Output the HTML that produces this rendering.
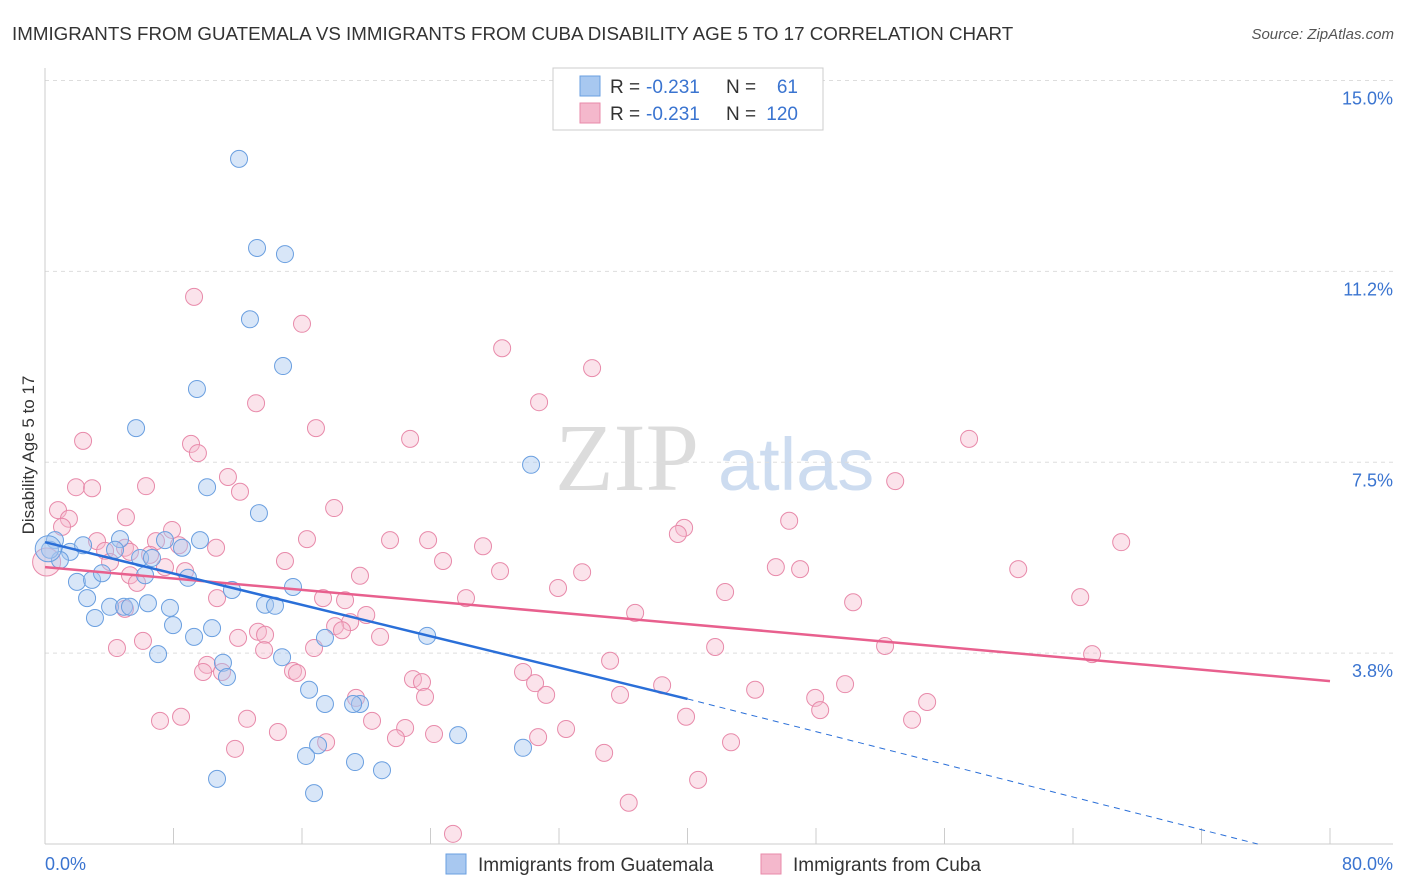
<!DOCTYPE html>
<html><head><meta charset="utf-8"><style>
body{margin:0;background:#fff;font-family:"Liberation Sans",sans-serif}
svg{display:block}
</style></head><body>
<svg id="chart" width="1406" height="892" xmlns="http://www.w3.org/2000/svg">
<text x="12" y="40" font-size="18.75" fill="#333">IMMIGRANTS FROM GUATEMALA VS IMMIGRANTS FROM CUBA DISABILITY AGE 5 TO 17 CORRELATION CHART</text>
<text x="1394" y="39" font-size="15" fill="#555" font-style="italic" text-anchor="end">Source: ZipAtlas.com</text>
<g>
<text x="555" y="490" font-size="96" font-family="Liberation Serif,serif" fill="#dcdcdc">ZIP</text>
<text x="718" y="490" font-size="74" fill="#cddcf0">atlas</text>
</g>
<g id="grid"></g>
<g id="axes"></g>
<g id="points"></g>
<g id="lines"></g>
<text transform="translate(34,455) rotate(-90)" font-size="17" fill="#333" text-anchor="middle">Disability Age 5 to 17</text>
<g>
<rect x="553" y="68" width="270" height="62" fill="#fff" stroke="#ccc"/>
<rect x="580" y="76" width="20" height="20" fill="#a8c8f0" stroke="#6a9fe0"/>
<rect x="580" y="103" width="20" height="20" fill="#f4b8cc" stroke="#e88aaa"/>
<text x="610" y="93" font-size="19" fill="#333">R = </text>
<text x="646" y="93" font-size="19" fill="#3a74d0">-0.231</text>
<text x="726" y="93" font-size="19" fill="#333">N =</text>
<text x="798" y="93" font-size="19" fill="#3a74d0" text-anchor="end">61</text>
<text x="610" y="120" font-size="19" fill="#333">R = </text>
<text x="646" y="120" font-size="19" fill="#3a74d0">-0.231</text>
<text x="726" y="120" font-size="19" fill="#333">N =</text>
<text x="798" y="120" font-size="19" fill="#3a74d0" text-anchor="end">120</text>
</g>
<g>
<rect x="446" y="854" width="20" height="20" fill="#a8c8f0" stroke="#6a9fe0"/>
<text x="478" y="871" font-size="19" fill="#333">Immigrants from Guatemala</text>
<rect x="761" y="854" width="20" height="20" fill="#f4b8cc" stroke="#e88aaa"/>
<text x="793" y="871" font-size="19" fill="#333">Immigrants from Cuba</text>
</g>
</svg>
<script>
const yTicks=[15,11.25,7.5,3.75];
const yTickLabels=["15.0%","11.2%","7.5%","3.8%"];
const xTicks=[0,8,16,24,32,40,48,56,64,72,80];
const blueX=[12.08,13.2,14.94,12.76,14.82,9.46,5.67,30.26,10.09,13.32,9.65,4.67,7.47,8.53,0.62,1.56,2.37,4.36,5.92,6.66,0.93,0.31,1.99,2.93,3.55,6.23,8.9,11.64,15.44,2.62,4.05,4.92,5.29,6.41,7.78,3.11,7.97,10.4,9.28,13.7,14.32,17.43,23.79,7.04,11.08,11.33,14.76,16.44,17.43,19.61,19.18,25.72,17.0,16.25,19.3,20.98,29.76,10.71,16.75,0.2];
const blueY=[13.46,11.71,11.59,10.31,9.39,8.94,8.17,7.45,7.01,6.5,5.97,5.99,5.97,5.82,5.97,5.74,5.87,5.78,5.62,5.62,5.58,5.78,5.15,5.19,5.32,5.28,5.23,4.99,5.05,4.83,4.66,4.66,4.66,4.73,4.64,4.44,4.3,4.24,4.07,4.7,4.68,4.05,4.09,3.73,3.56,3.28,3.67,3.03,2.75,2.75,2.75,2.14,1.94,1.73,1.61,1.45,1.89,1.28,1.0,5.8];
const pinkX=[9.28,16.0,28.46,34.06,13.14,30.76,16.87,2.37,9.09,22.73,57.53,9.52,11.39,52.93,6.29,1.93,2.93,12.14,0.81,5.04,18.0,1.49,1.06,7.91,46.33,39.79,39.4,16.31,21.48,23.85,67.0,6.91,3.24,4.98,27.27,10.65,8.34,3.74,5.29,6.54,4.05,14.94,24.78,7.47,45.5,47.01,60.59,28.33,33.44,5.29,19.61,5.73,8.72,31.94,42.34,26.21,10.71,17.31,18.68,50.31,64.45,4.98,20.0,36.74,19.0,18.06,18.49,13.26,13.7,12.02,20.86,6.1,16.75,4.48,13.64,41.72,52.3,65.19,35.18,10.09,9.84,11.02,15.44,15.69,22.91,23.47,29.76,30.51,38.42,49.81,31.2,19.36,23.66,35.8,44.21,47.95,54.92,48.26,8.47,7.16,12.58,39.91,53.98,20.36,32.44,22.42,14.5,24.22,21.85,30.7,42.71,17.5,11.83,34.81,40.66,36.34,25.4,0.1];
const pinkY=[10.75,10.22,9.74,9.35,8.66,8.68,8.17,7.92,7.86,7.96,7.96,7.68,7.21,7.13,7.03,7.01,6.99,6.92,6.56,6.42,6.6,6.39,6.23,6.17,6.35,6.21,6.09,5.99,5.97,5.97,5.93,5.95,5.95,5.82,5.85,5.82,5.87,5.76,5.74,5.68,5.54,5.56,5.56,5.44,5.44,5.4,5.4,5.36,5.34,5.28,5.27,5.13,5.36,5.03,4.95,4.83,4.83,4.83,4.79,4.75,4.85,4.62,4.5,4.54,4.36,4.28,4.2,4.17,4.11,4.05,4.07,3.99,3.85,3.85,3.81,3.87,3.89,3.73,3.6,3.52,3.38,3.38,3.4,3.36,3.24,3.18,3.38,3.16,3.12,3.14,2.93,2.87,2.89,2.93,3.03,2.87,2.79,2.63,2.5,2.42,2.46,2.5,2.44,2.42,2.26,2.28,2.2,2.16,2.08,2.1,2.0,2.0,1.87,1.79,1.26,0.81,0.2,5.54];
const blueTrend=[[0,5.93],[40,2.85],[75.5,0]];
const pinkTrend=[[0,5.44],[80,3.2]];
const NS="http://www.w3.org/2000/svg";
const sx=v=>45+v*(1330-45)/80;
const sy=v=>844-v*50.9;
function mk(tag,parent,attrs){const e=document.createElementNS(NS,tag);for(const k in attrs)e.setAttribute(k,attrs[k]);document.getElementById(parent).appendChild(e);return e;}
yTicks.forEach((t,i)=>{
 const l=mk('line','grid',{x1:45,x2:1393,y1:sy(t),y2:sy(t),stroke:'#ddd','stroke-dasharray':'4,4'});
 
 
 const tx=mk('text','axes',{x:1393,y:sy(t)+24,'font-size':18,fill:'#3a74d0','text-anchor':'end'});
 tx.textContent=yTickLabels[i];
 
 
});
const ax=mk('line','axes',{x1:45,x2:45,y1:68,y2:844,stroke:'#ccc'});


const bx=mk('line','axes',{x1:45,x2:1393,y1:844,y2:844,stroke:'#ccc'});


xTicks.forEach(t=>{
 const l=mk('line','axes',{x1:sx(t),x2:sx(t),y1:828,y2:844,stroke:'#ccc'});
 
 
});
[[0,"0.0%",'start',45],[80,"80.0%",'end',1393]].forEach(([v,s,a,x])=>{
 const t=mk('text','axes',{x:x,y:870,'font-size':18,fill:'#3a74d0','text-anchor':a});
 t.textContent=s;
 
 
});
pinkX.forEach((x,i)=>{
 const c=mk('circle','points',{cx:sx(x),cy:sy(pinkY[i]),r:i==pinkX.length-1?14:8.5,fill:'rgba(244,184,204,0.4)',stroke:'#e88aaa','stroke-width':1});
 
 
});
blueX.forEach((x,i)=>{
 const c=mk('circle','points',{cx:sx(x),cy:sy(blueY[i]),r:i==blueX.length-1?13:8.5,fill:'rgba(168,200,240,0.45)',stroke:'#6a9fe0','stroke-width':1});
 
 
});
const p=mk('line','lines',{x1:sx(pinkTrend[0][0]),y1:sy(pinkTrend[0][1]),x2:sx(pinkTrend[1][0]),y2:sy(pinkTrend[1][1]),stroke:'#e8608e','stroke-width':2.5});


const b=mk('line','lines',{x1:sx(blueTrend[0][0]),y1:sy(blueTrend[0][1]),x2:sx(blueTrend[1][0]),y2:sy(blueTrend[1][1]),stroke:'#2a6fd8','stroke-width':2.5});


const bd=mk('line','lines',{x1:sx(blueTrend[1][0]),y1:sy(blueTrend[1][1]),x2:sx(blueTrend[2][0]),y2:sy(blueTrend[2][1]),stroke:'#2a6fd8','stroke-width':1,'stroke-dasharray':'6,5'});


</script>
</body></html>
